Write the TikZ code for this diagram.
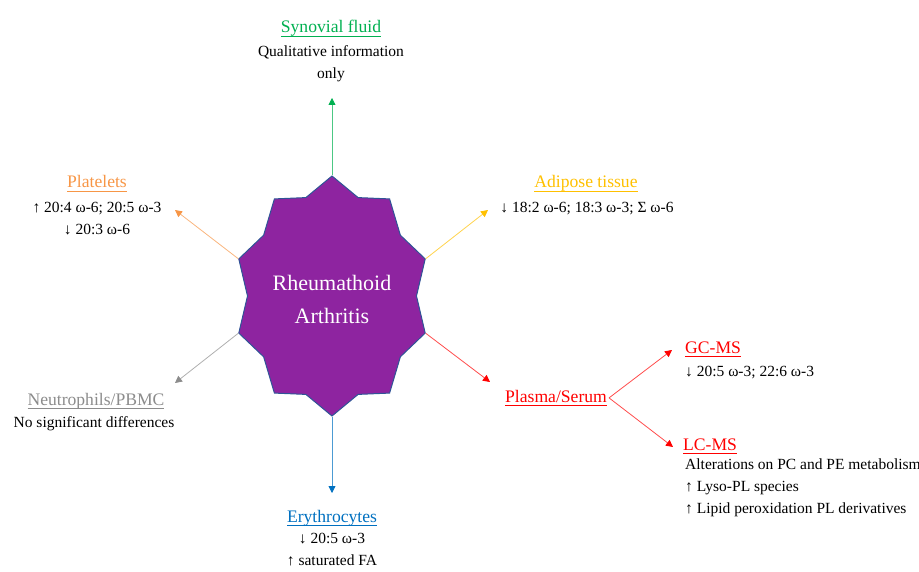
\documentclass[tikz,border=0pt]{standalone}
\usepackage{fontspec}
\setmainfont{Liberation Serif}
\usetikzlibrary{shapes.geometric,arrows.meta}
\definecolor{synovial}{HTML}{00B050}
\definecolor{platelet}{HTML}{F79646}
\definecolor{adipose}{HTML}{FFC000}
\definecolor{neutro}{HTML}{8C8C8C}
\definecolor{plasma}{HTML}{FF0000}
\definecolor{eryth}{HTML}{0070C0}
\definecolor{rafill}{RGB}{142,36,160}
\definecolor{raline}{HTML}{2F5597}
\newcommand\ulhead[1]{\setbox0\hbox{#1}\rlap{\rule[-4pt]{\wd0}{1pt}}\box0}
\begin{document}
\begin{tikzpicture}
[x=1pt, y=-1pt,
rastar/.style ={star, star points=10, star point ratio=1.16, minimum size=196pt, inner sep=0pt, yscale=1.2245, draw=raline, fill=rafill, line width=1pt},
ratext/.style ={text=white, align=center, font=\fontsize{22}{33}\selectfont},
head/.style ={anchor=base, inner sep=0pt, font=\fontsize{17.6}{22}\selectfont},
body/.style ={anchor=base, inner sep=0pt, align=center, font=\fontsize{15.5}{22}\selectfont},
line/.style ={draw=#1!70, line width=0.8pt, -{Triangle[width=7pt,length=7pt,color=#1]}}]
\useasboundingbox (0, 0) rectangle (919, 572);
\draw (332, 296) node[rastar] (ra) {};
\draw (332, 299) node[ratext] (ratitle) {Rheumathoid\\Arthritis};
\draw (331, 33) node[head, text=synovial] (syn) {\ulhead{Synovial fluid}};
\draw (331, 79) node[body] (syntext) {Qualitative information\\only};
\draw (97, 188) node[head, text=platelet] (plt) {\ulhead{Platelets}};
\draw (97, 235) node[body] (plttext) {↑ 20:4 ω-6; 20:5 ω-3\\↓ 20:3 ω-6};
\draw (586, 188) node[head, text=adipose] (adi) {\ulhead{Adipose tissue}};
\draw (587, 213) node[body] (aditext) {↓ 18:2 ω-6; 18:3 ω-3; Σ ω-6};
\draw (96, 405) node[head, text=neutro] (neu) {\ulhead{Neutrophils/PBMC}};
\draw (94, 427) node[body] (neutext) {No significant differences};
\draw (556, 402) node[head, text=plasma] (pla) {\ulhead{Plasma/Serum}};
\draw (685, 353) node[head, anchor=base west, text=plasma] (gc) {\ulhead{GC-MS}};
\draw (685, 376) node[body, anchor=base west, align=left] (gctext) {↓ 20:5 ω-3; 22:6 ω-3};
\draw (683, 450) node[head, anchor=base west, text=plasma] (lc) {\ulhead{LC-MS}};
\draw (685, 513) node[body, anchor=base west, align=left] (lctext) {Alterations on PC and PE metabolism\\↑ Lyso-PL species\\↑ Lipid peroxidation PL derivatives};
\draw (332, 522) node[head, text=eryth] (ery) {\ulhead{Erythrocytes}};
\draw (332, 565) node[body] (erytext) {↓ 20:5 ω-3\\↑ saturated FA};
\coordinate (syntip) at (332, 98);
\coordinate (plttip) at (175, 210);
\coordinate (aditip) at (488, 210);
\coordinate (neutip) at (175, 383);
\coordinate (platip) at (490, 382);
\coordinate (erytip) at (332, 493);
\coordinate (gctip) at (672, 350);
\coordinate (lctip) at (673, 447);
\draw[line=synovial] (ra.outer point 1) -- (syntip);
\draw[line=platelet] (ra.outer point 3) -- (plttip);
\draw[line=neutro] (ra.outer point 4) -- (neutip);
\draw[line=eryth] (ra.outer point 6) -- (erytip);
\draw[line=plasma] (ra.outer point 8) -- (platip);
\draw[line=adipose] (ra.outer point 9) -- (aditip);
\draw[line=plasma] ([xshift=2pt]pla.east) -- (gctip);
\draw[line=plasma] ([xshift=2pt]pla.east) -- (lctip);
\end{tikzpicture}
\end{document}
